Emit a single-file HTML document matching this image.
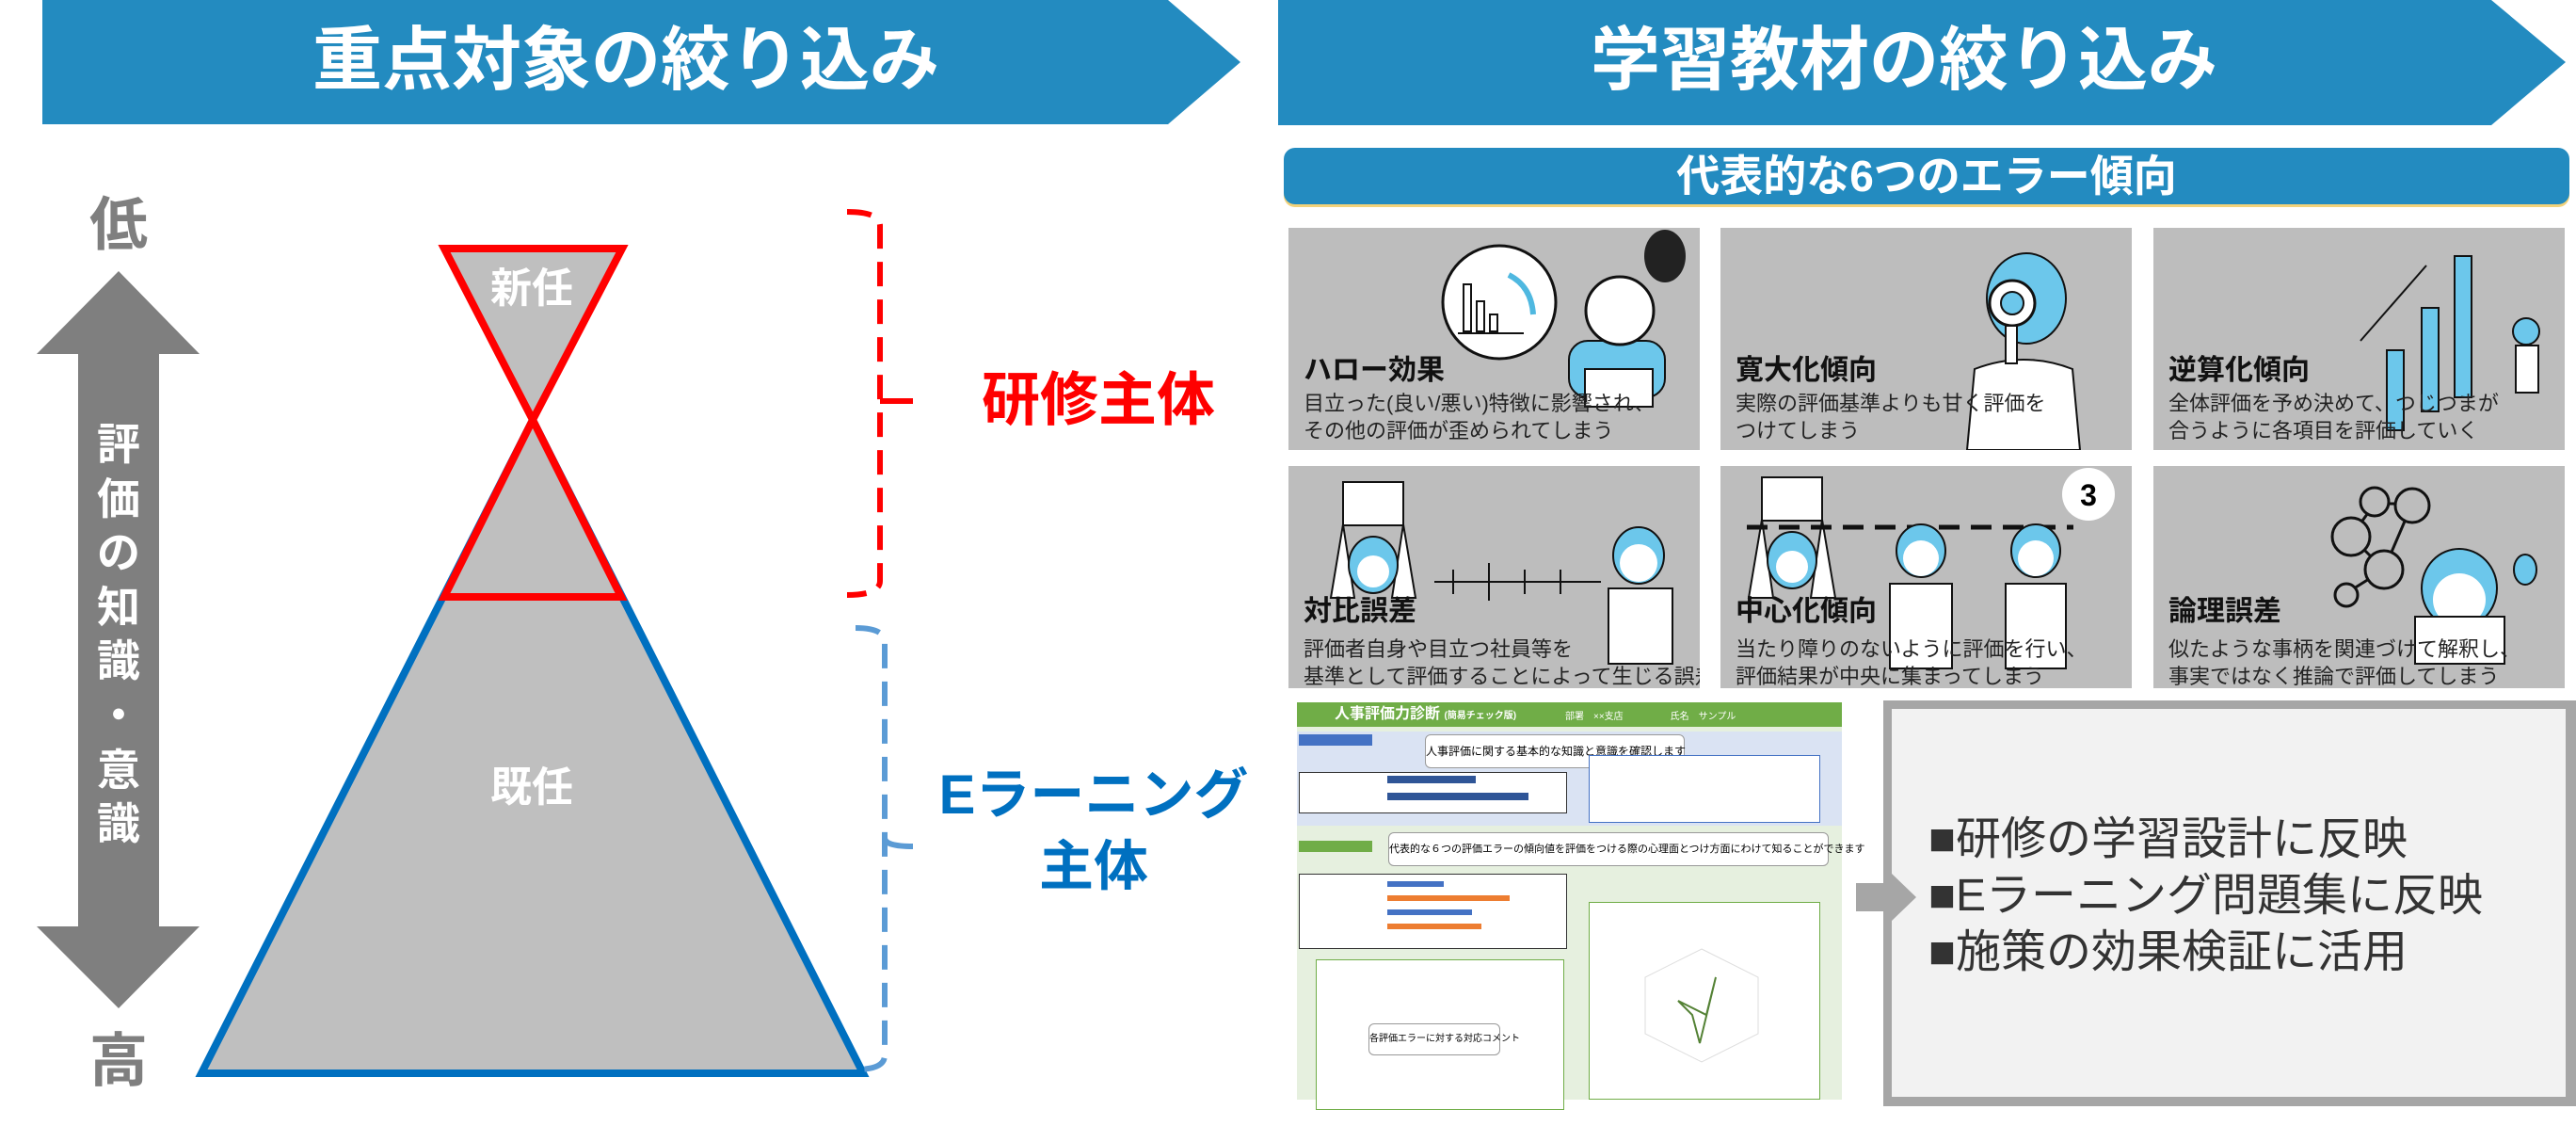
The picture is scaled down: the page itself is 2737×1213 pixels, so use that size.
<!DOCTYPE html>
<html><head><meta charset="utf-8"><style>
*{margin:0;padding:0;box-sizing:border-box}
body{width:2737px;height:1213px;background:#fff;position:relative;overflow:hidden;font-family:"Liberation Sans","Noto Sans CJK JP",sans-serif}
.a{position:absolute;white-space:nowrap}
.t{position:absolute;width:437px;height:236px;background:#bdbdbd;overflow:hidden}
.tt{position:absolute;left:16px;font-size:30px;font-weight:bold;color:#111;line-height:1}
.td{position:absolute;left:16px;font-size:22px;color:#222;line-height:29px;white-space:nowrap}
</style></head><body>
<svg class="a" style="left:0;top:0" width="2737" height="1213">
<polygon points="45,0 1241,0 1318,66 1241,132 45,132" fill="#238bc0"/>
<polygon points="1358,0 2647,0 2726,66 2647,133 1358,133" fill="#238bc0"/>
<rect x="1364" y="160" width="1366" height="60" rx="12" fill="#f2d27a"/>
<rect x="1364" y="157" width="1366" height="60" rx="12" fill="#238bc0"/>
<polygon points="126,288 212,376 169,376 169,984 212,984 126,1071 39,984 83,984 83,376 39,376" fill="#7f7f7f"/>
<polygon points="566,446 214,1140 917,1140" fill="#bfbfbf" stroke="#0070c0" stroke-width="8" stroke-linejoin="miter"/>
<polygon points="566,446 472,634 660,634" fill="#bfbfbf" stroke="#ff0000" stroke-width="8"/>
<polygon points="472,264 661,264 566,446" fill="#bfbfbf" stroke="#ff0000" stroke-width="8"/>
<path d="M900,225 Q935,225 935,240 L935,617 Q935,632 900,632" fill="none" stroke="#ff0000" stroke-width="6" stroke-dasharray="26,14"/>
<line x1="935" y1="426" x2="970" y2="426" stroke="#ff0000" stroke-width="6"/>
<path d="M909,667 Q940,667 940,682 L940,1121 Q940,1136 909,1136" fill="none" stroke="#5b9bd5" stroke-width="6" stroke-dasharray="26,14"/>
<path d="M940,890 Q940,899 970,899" fill="none" stroke="#5b9bd5" stroke-width="6"/>
<rect x="2001" y="744" width="740" height="431" fill="#a6a6a6"/>
<rect x="2010" y="753" width="716" height="412" fill="#f2f2f2"/>
<polygon points="1972,938 2010,938 2010,928 2036,953 2010,978 2010,968 1972,968" fill="#a6a6a6"/>
</svg>
<div class="a" style="left:45px;width:1240px;top:22px;text-align:center;font-size:74px;font-weight:bold;color:#fff;line-height:84px">重点対象の絞り込み</div>
<div class="a" style="left:1358px;width:1330px;top:22px;text-align:center;font-size:74px;font-weight:bold;color:#fff;line-height:84px">学習教材の絞り込み</div>
<div class="a" style="left:1364px;width:1366px;top:160px;text-align:center;font-size:46px;font-weight:bold;color:#fff;line-height:54px">代表的な6つのエラー傾向</div>
<div class="a" style="left:86px;width:80px;top:205px;text-align:center;font-size:62px;font-weight:bold;color:#7f7f7f;line-height:70px">低</div>
<div class="a" style="left:86px;width:80px;top:1093px;text-align:center;font-size:62px;font-weight:bold;color:#7f7f7f;line-height:70px">高</div>
<div class="a" style="left:96px;width:60px;top:444px;text-align:center;font-size:46px;font-weight:bold;color:#fff;line-height:57.6px;white-space:normal">評<br>価<br>の<br>知<br>識<br>・<br>意<br>識</div>
<div class="a" style="left:500px;width:130px;top:282px;text-align:center;font-size:44px;font-weight:bold;color:#fff;line-height:50px">新任</div>
<div class="a" style="left:500px;width:130px;top:812px;text-align:center;font-size:44px;font-weight:bold;color:#fff;line-height:50px">既任</div>
<div class="a" style="left:1000px;width:334px;top:392px;text-align:center;font-size:62px;font-weight:bold;color:#ff0000;line-height:68px">研修主体</div>
<div class="a" style="left:960px;width:404px;top:812px;text-align:center;font-size:58px;font-weight:bold;color:#0070c0;line-height:66px">Eラーニング</div>
<div class="a" style="left:960px;width:404px;top:888px;text-align:center;font-size:58px;font-weight:bold;color:#0070c0;line-height:66px">主体</div>

<div class="t" style="left:1369px;top:242px">
<svg class="a" style="left:0;top:0" width="437" height="236">
<circle cx="224" cy="79" r="60" fill="#fff" stroke="#111" stroke-width="3"/>
<rect x="186" y="60" width="8" height="50" fill="none" stroke="#111" stroke-width="2"/><rect x="200" y="78" width="8" height="32" fill="none" stroke="#111" stroke-width="2"/><rect x="214" y="92" width="8" height="18" fill="none" stroke="#111" stroke-width="2"/><line x1="180" y1="112" x2="250" y2="112" stroke="#111" stroke-width="2"/>
<path d="M234,50 Q258,62 260,92" stroke="#4fb8e0" stroke-width="6" fill="none"/>
<rect x="298" y="120" width="102" height="60" rx="20" fill="#6cc7eb" stroke="#111" stroke-width="2"/>
<rect x="315" y="150" width="72" height="40" fill="#fff" stroke="#111" stroke-width="2"/>
<circle cx="352" cy="88" r="36" fill="#fff" stroke="#111" stroke-width="3"/>
<ellipse cx="400" cy="30" rx="22" ry="28" fill="#222"/>
</svg>
<div class="tt" style="top:137px">ハロー効果</div>
<div class="td" style="top:172px">目立った(良い/悪い)特徴に影響され、<br>その他の評価が歪められてしまう</div>
</div>
<div class="t" style="left:1828px;top:242px">
<svg class="a" style="left:0;top:0" width="437" height="236">
<path d="M262,236 L270,150 Q322,130 374,150 L382,236 Z" fill="#fff" stroke="#111" stroke-width="2"/>
<ellipse cx="325" cy="75" rx="42" ry="48" fill="#6cc7eb" stroke="#111" stroke-width="2"/>
<circle cx="310" cy="80" r="24" fill="#fff" stroke="#111" stroke-width="3"/>
<circle cx="310" cy="80" r="12" fill="#6cc7eb" stroke="#111" stroke-width="2"/>
<rect x="303" y="104" width="12" height="40" fill="#fff" stroke="#111" stroke-width="2"/>
</svg>
<div class="tt" style="top:137px">寛大化傾向</div>
<div class="td" style="top:172px">実際の評価基準よりも甘く評価を<br>つけてしまう</div>
</div>
<div class="t" style="left:2288px;top:242px">
<svg class="a" style="left:0;top:0" width="437" height="236">
<rect x="248" y="130" width="18" height="85" fill="#6cc7eb" stroke="#111" stroke-width="2"/>
<rect x="285" y="85" width="18" height="110" fill="#6cc7eb" stroke="#111" stroke-width="2"/>
<rect x="320" y="30" width="18" height="150" fill="#6cc7eb" stroke="#111" stroke-width="2"/>
<line x1="220" y1="120" x2="290" y2="40" stroke="#111" stroke-width="2"/>
<circle cx="396" cy="110" r="14" fill="#6cc7eb" stroke="#111" stroke-width="2"/>
<rect x="385" y="125" width="24" height="50" fill="#fff" stroke="#111" stroke-width="2"/>
</svg>
<div class="tt" style="top:137px">逆算化傾向</div>
<div class="td" style="top:172px">全体評価を予め決めて、つじつまが<br>合うように各項目を評価していく</div>
</div>
<div class="t" style="left:1369px;top:495px">
<svg class="a" style="left:0;top:0" width="437" height="236">
<rect x="58" y="17" width="64" height="46" fill="#fff" stroke="#111" stroke-width="2"/>
<path d="M58,62 L45,140 L70,140 Z M122,62 L135,140 L110,140 Z" fill="#fff" stroke="#111" stroke-width="2"/>
<ellipse cx="90" cy="105" rx="26" ry="30" fill="#6cc7eb" stroke="#111" stroke-width="2"/>
<circle cx="90" cy="112" r="17" fill="#fff"/>
<line x1="155" y1="123" x2="332" y2="123" stroke="#111" stroke-width="2"/>
<line x1="175" y1="110" x2="175" y2="136" stroke="#111" stroke-width="2"/><line x1="213" y1="103" x2="213" y2="143" stroke="#111" stroke-width="2"/><line x1="251" y1="110" x2="251" y2="136" stroke="#111" stroke-width="2"/><line x1="289" y1="110" x2="289" y2="136" stroke="#111" stroke-width="2"/>
<ellipse cx="372" cy="95" rx="27" ry="30" fill="#6cc7eb" stroke="#111" stroke-width="2"/>
<circle cx="372" cy="103" r="20" fill="#fff"/>
<rect x="340" y="130" width="68" height="80" fill="#fff" stroke="#111" stroke-width="2"/>
</svg>
<div class="tt" style="top:140px">対比誤差</div>
<div class="td" style="top:180px">評価者自身や目立つ社員等を<br>基準として評価することによって生じる誤差</div>
</div>
<div class="t" style="left:1828px;top:495px">
<svg class="a" style="left:0;top:0" width="437" height="236">
<rect x="44" y="12" width="64" height="46" fill="#fff" stroke="#111" stroke-width="2"/>
<path d="M44,57 L30,140 L56,140 Z M108,57 L122,140 L96,140 Z" fill="#fff" stroke="#111" stroke-width="2"/>
<ellipse cx="76" cy="100" rx="26" ry="30" fill="#6cc7eb" stroke="#111" stroke-width="2"/>
<circle cx="76" cy="107" r="17" fill="#fff"/>
<line x1="28" y1="65" x2="375" y2="65" stroke="#111" stroke-width="5" stroke-dasharray="22,12"/>
<circle cx="391" cy="30" r="28" fill="#fff"/>
<text x="391" y="42" font-size="32" font-weight="bold" text-anchor="middle" font-family="Liberation Sans">3</text>
<ellipse cx="213" cy="90" rx="26" ry="28" fill="#6cc7eb" stroke="#111" stroke-width="2"/>
<circle cx="213" cy="98" r="19" fill="#fff"/>
<rect x="180" y="125" width="66" height="90" fill="#fff" stroke="#111" stroke-width="2"/>
<ellipse cx="335" cy="90" rx="26" ry="28" fill="#6cc7eb" stroke="#111" stroke-width="2"/>
<circle cx="335" cy="98" r="19" fill="#fff"/>
<rect x="303" y="125" width="64" height="90" fill="#fff" stroke="#111" stroke-width="2"/>
</svg>
<div class="tt" style="top:140px">中心化傾向</div>
<div class="td" style="top:180px">当たり障りのないように評価を行い、<br>評価結果が中央に集まってしまう</div>
</div>
<div class="t" style="left:2288px;top:495px">
<svg class="a" style="left:0;top:0" width="437" height="236">
<g stroke="#111" stroke-width="3" fill="none">
<line x1="235" y1="40" x2="275" y2="40"/><line x1="210" y1="75" x2="235" y2="40"/><line x1="210" y1="75" x2="245" y2="110"/><line x1="275" y1="40" x2="245" y2="110"/><line x1="245" y1="110" x2="205" y2="135"/>
<circle cx="235" cy="38" r="15" fill="#bdbdbd"/><circle cx="275" cy="42" r="18" fill="#bdbdbd"/><circle cx="210" cy="75" r="20" fill="#bdbdbd"/><circle cx="245" cy="110" r="20" fill="#bdbdbd"/><circle cx="205" cy="137" r="12" fill="#bdbdbd"/>
</g>
<ellipse cx="325" cy="130" rx="40" ry="42" fill="#6cc7eb" stroke="#111" stroke-width="2"/>
<circle cx="325" cy="142" r="28" fill="#fff"/>
<rect x="278" y="160" width="95" height="50" fill="#fff" stroke="#111" stroke-width="2"/>
<ellipse cx="395" cy="110" rx="12" ry="16" fill="#6cc7eb" stroke="#111" stroke-width="2"/>
</svg>
<div class="tt" style="top:140px">論理誤差</div>
<div class="td" style="top:180px">似たような事柄を関連づけて解釈し、<br>事実ではなく推論で評価してしまう</div>
</div>

<div class="a" style="left:1378px;top:746px;width:579px;height:422px;background:#e6f0df">
<div class="a" style="left:0;top:0;width:579px;height:26px;background:#70ad47"></div>
<div class="a" style="left:40px;top:0;font-size:16px;font-weight:bold;color:#fff;line-height:26px">人事評価力診断 <span style="font-size:10px">(簡易チェック版)</span></div>
<div class="a" style="left:285px;top:6px;font-size:10px;color:#fff">部署　××支店　　　　　氏名　サンプル</div>
<div class="a" style="left:0;top:31px;width:579px;height:100px;background:#dae3f3"></div>
<div class="a" style="left:2px;top:34px;width:78px;height:12px;background:#4472c4"></div>
<div class="a" style="left:136px;top:34px;width:276px;height:36px;background:#fff;border:1px solid #999;border-radius:6px;font-size:12px;line-height:34px;text-align:center">人事評価に関する基本的な知識と意識を確認します</div>
<div class="a" style="left:310px;top:56px;width:246px;height:72px;background:#fff;border:1px solid #4472c4"></div>
<div class="a" style="left:2px;top:74px;width:285px;height:44px;background:#fff;border:1px solid #333"></div>
<div class="a" style="left:96px;top:78px;width:94px;height:8px;background:#2f5597"></div>
<div class="a" style="left:96px;top:96px;width:150px;height:8px;background:#2f5597"></div>
<div class="a" style="left:2px;top:147px;width:78px;height:12px;background:#70ad47"></div>
<div class="a" style="left:97px;top:138px;width:468px;height:36px;background:#fff;border:1px solid #999;border-radius:6px;font-size:11px;line-height:34px;text-align:center">代表的な６つの評価エラーの傾向値を評価をつける際の心理面とつけ方面にわけて知ることができます</div>
<div class="a" style="left:2px;top:182px;width:285px;height:80px;background:#fff;border:1px solid #333"></div>
<div class="a" style="left:96px;top:190px;width:60px;height:6px;background:#4472c4"></div>
<div class="a" style="left:96px;top:205px;width:130px;height:6px;background:#ed7d31"></div>
<div class="a" style="left:96px;top:220px;width:90px;height:6px;background:#4472c4"></div>
<div class="a" style="left:96px;top:235px;width:100px;height:6px;background:#ed7d31"></div>
<div class="a" style="left:20px;top:273px;width:264px;height:160px;background:#fff;border:1px solid #70ad47"></div>
<div class="a" style="left:76px;top:341px;width:140px;height:34px;background:#fff;border:1px solid #999;border-radius:6px;font-size:10px;line-height:32px;text-align:center">各評価エラーに対する対応コメント</div>
<div class="a" style="left:310px;top:212px;width:246px;height:210px;background:#fff;border:1px solid #70ad47"></div>
<svg class="a" style="left:310px;top:212px" width="246" height="210"><polygon points="95,105 125,120 135,80 118,150 110,120" fill="none" stroke="#548235" stroke-width="2"/><polygon points="120,50 180,80 180,140 120,170 60,140 60,80" fill="none" stroke="#ddd"/></svg>
</div>

<div class="a" style="left:2049px;top:862px;font-size:48px;color:#333;line-height:60px;white-space:normal">■研修の学習設計に反映<br>■Eラーニング問題集に反映<br>■施策の効果検証に活用</div>
</body></html>
